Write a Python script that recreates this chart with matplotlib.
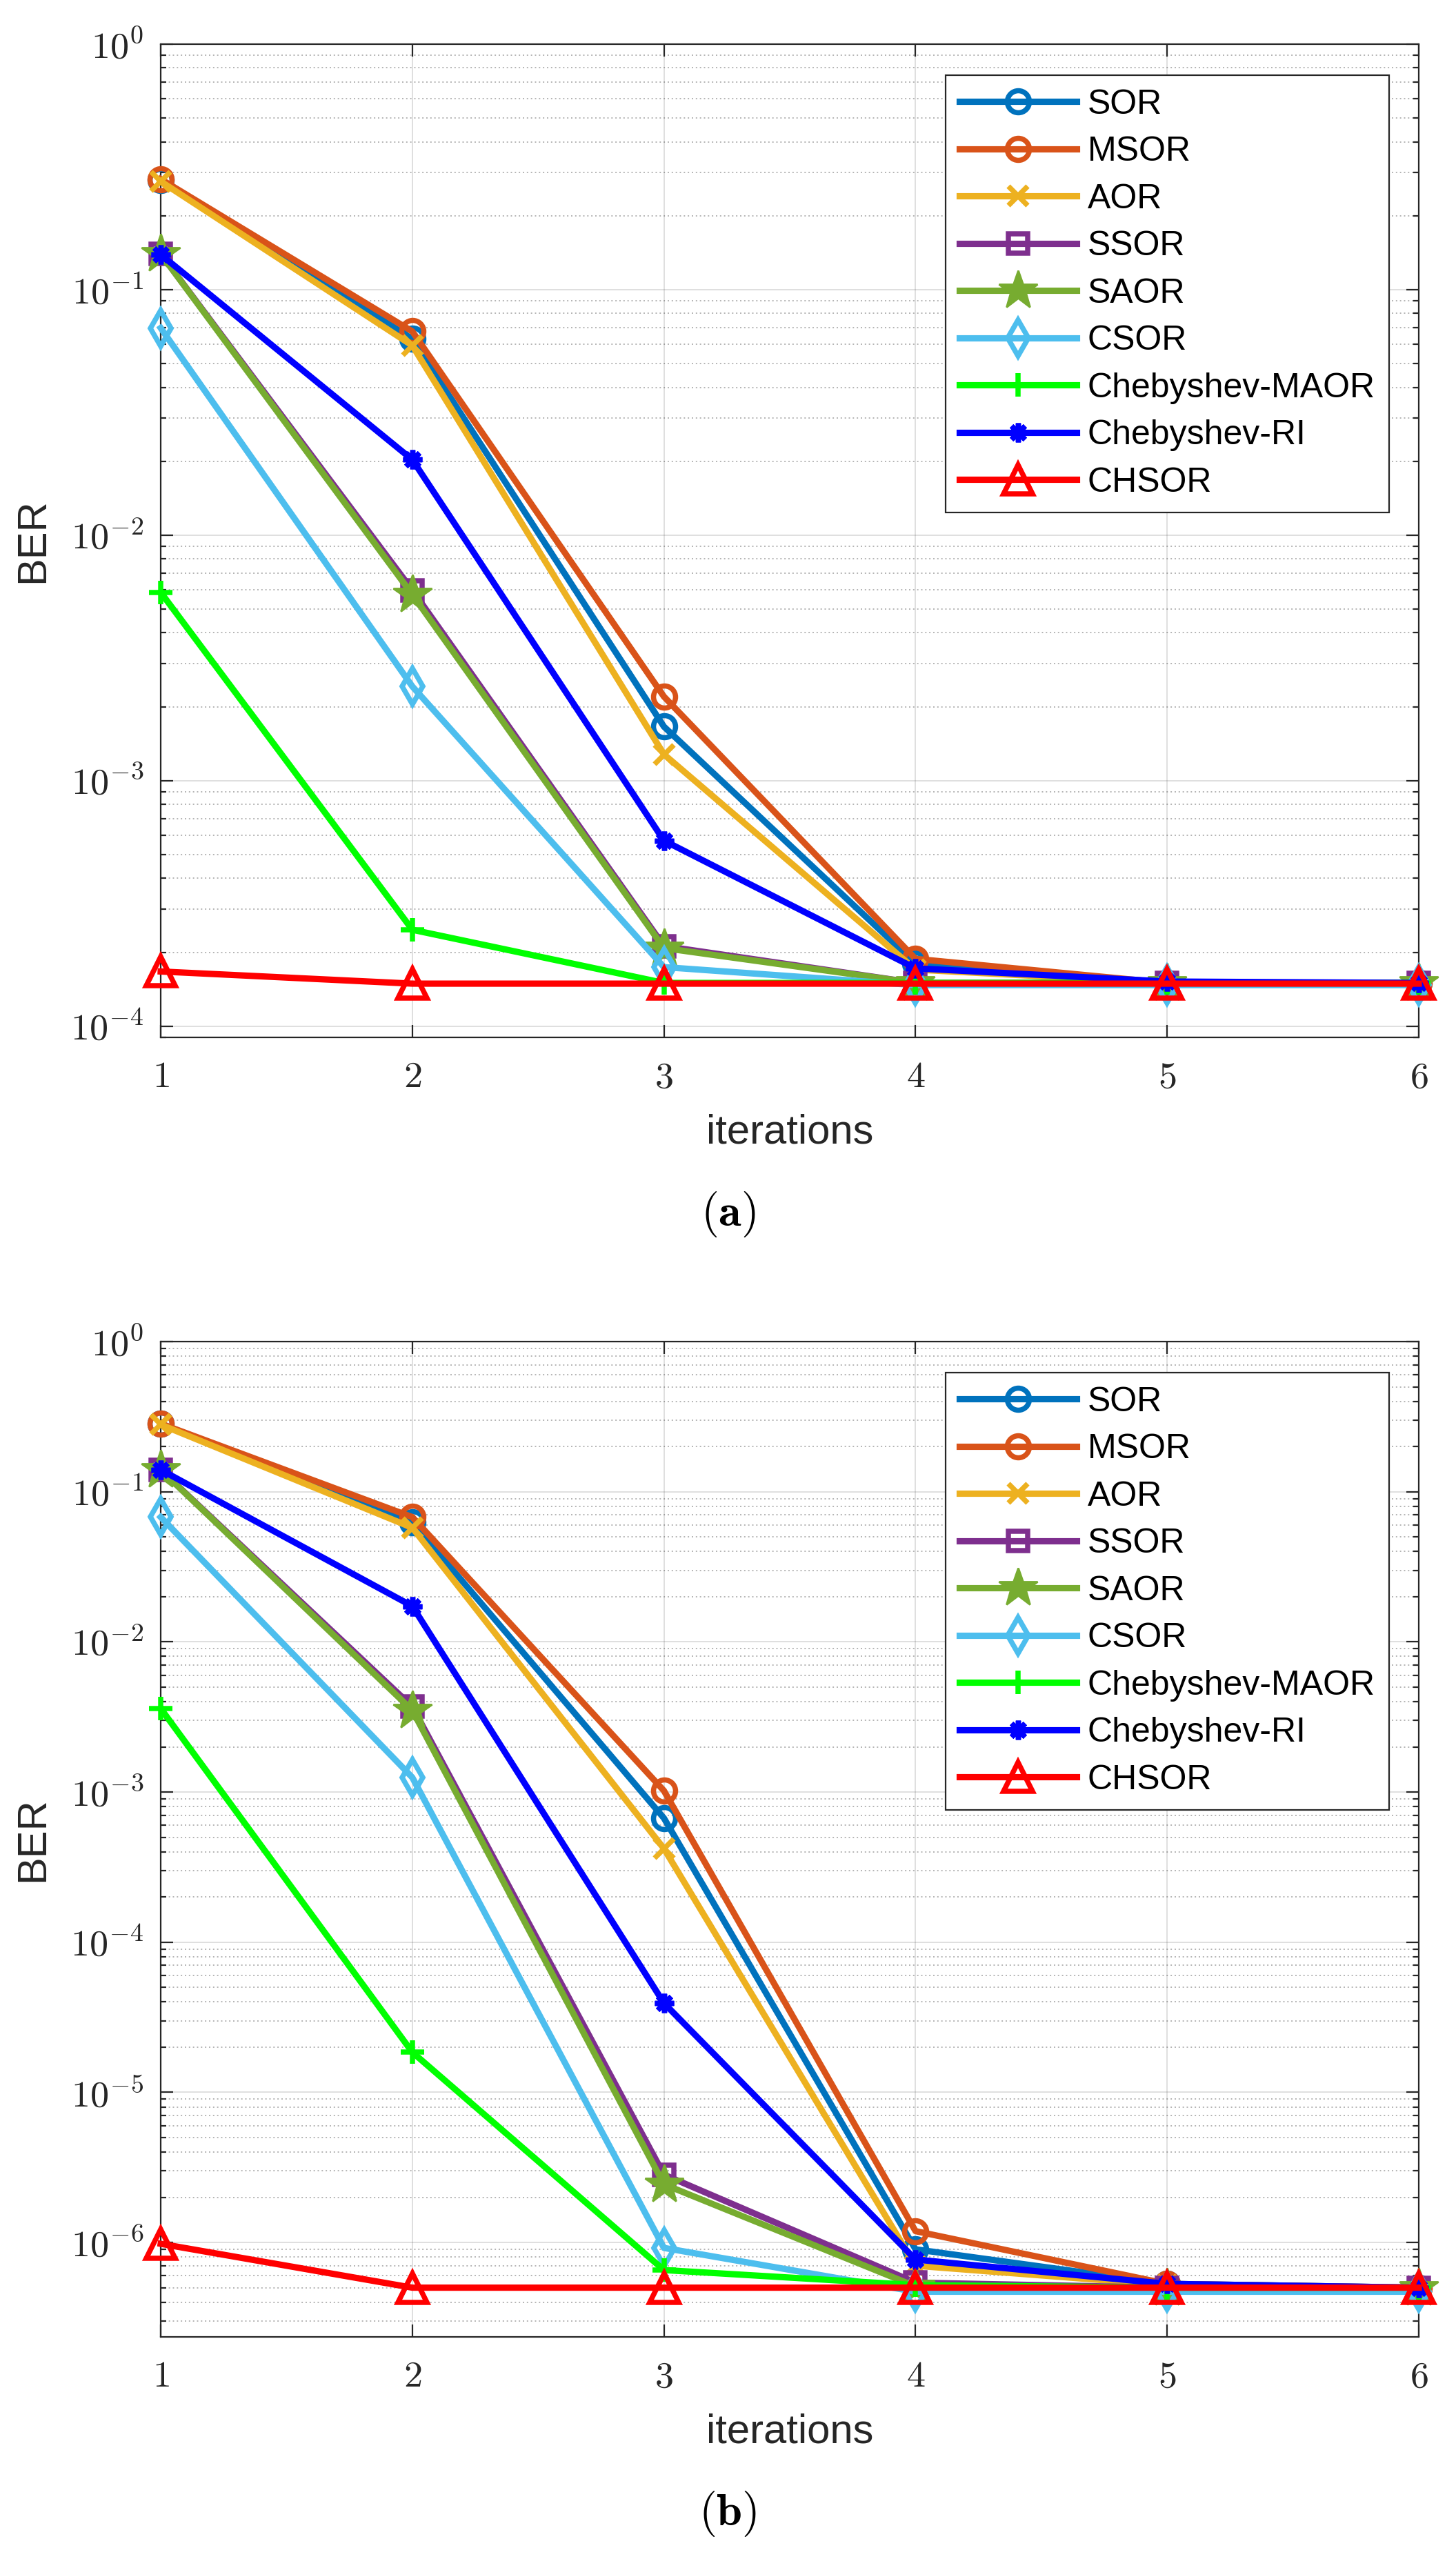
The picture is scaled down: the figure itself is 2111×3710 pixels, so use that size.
import numpy as np
import matplotlib
matplotlib.use("Agg")
import matplotlib.pyplot as plt
from matplotlib.ticker import FixedLocator, FuncFormatter, NullFormatter

# iterations on the x axis
iters = [1, 2, 3, 4, 5, 6]

labels = ["SOR", "MSOR", "AOR", "SSOR", "SAOR", "CSOR",
          "Chebyshev-MAOR", "Chebyshev-RI", "CHSOR"]

# panel (a) BER values
a_sor   = [0.280, 0.0630, 1.66e-3, 1.80e-4, 1.50e-4, 1.50e-4]
a_msor  = [0.282, 0.0676, 2.20e-3, 1.88e-4, 1.50e-4, 1.50e-4]
a_aor   = [0.276, 0.0592, 1.28e-3, 1.70e-4, 1.50e-4, 1.50e-4]
a_ssor  = [0.140, 5.97e-3, 2.12e-4, 1.50e-4, 1.50e-4, 1.50e-4]
a_saor  = [0.140, 5.73e-3, 2.08e-4, 1.50e-4, 1.50e-4, 1.50e-4]
a_csor  = [0.0698, 2.42e-3, 1.74e-4, 1.47e-4, 1.47e-4, 1.47e-4]
a_maor  = [5.85e-3, 2.47e-4, 1.50e-4, 1.50e-4, 1.50e-4, 1.50e-4]
a_ri    = [0.139, 0.0203, 5.70e-4, 1.72e-4, 1.52e-4, 1.50e-4]
a_chsor = [1.67e-4, 1.49e-4, 1.49e-4, 1.49e-4, 1.49e-4, 1.49e-4]

# panel (b)
b_sor   = [0.284, 0.0625, 6.70e-4, 9.0e-7, 5.3e-7, 5.0e-7]
b_msor  = [0.284, 0.0678, 1.02e-3, 1.19e-6, 5.3e-7, 5.0e-7]
b_aor   = [0.280, 0.0576, 4.20e-4, 7.0e-7, 5.2e-7, 5.0e-7]
b_ssor  = [0.140, 3.70e-3, 2.83e-6, 5.4e-7, 5.0e-7, 5.0e-7]
b_saor  = [0.140, 3.50e-3, 2.44e-6, 5.1e-7, 5.0e-7, 5.0e-7]
b_csor  = [0.0678, 1.25e-3, 9.2e-7, 4.7e-7, 4.7e-7, 4.7e-7]
b_maor  = [3.60e-3, 1.85e-5, 6.55e-7, 5.2e-7, 5.0e-7, 5.0e-7]
b_ri    = [0.140, 0.0173, 3.93e-5, 7.7e-7, 5.3e-7, 5.0e-7]
b_chsor = [9.8e-7, 5.0e-7, 5.0e-7, 5.0e-7, 5.0e-7, 5.0e-7]

ylims = [(9e-5, 1.0), (2.35e-7, 1.0)]

# MATLAB-ish line styles per method
STYLES = [
    dict(color="#0072BD", marker="o", ms=11.5, mfc="none"),
    dict(color="#D95319", marker="o", ms=11.5, mfc="none"),
    dict(color="#EDB120", marker="x", ms=10, mfc="none"),
    dict(color="#7E2F8E", marker="s", ms=10, mfc="none"),
    dict(color="#77AC30", marker="*", ms=21, mfc="#77AC30", mew=1.0),
    dict(color="#4DBEEE", marker="d", ms=13, mfc="none"),
    dict(color="#00FF00", marker="+", ms=12, mfc="none"),
    dict(color="#0000FF", marker=(8, 2, 0), ms=10, mfc="none"),
    dict(color="#FF0000", marker="^", ms=15, mfc="none"),
]

DARK = "#262626"
plt.rcParams["mathtext.fontset"] = "cm"
plt.rcParams["font.family"] = ["Liberation Sans", "DejaVu Sans"]

W, H = 2111, 3710
DPI = 200
fig = plt.figure(figsize=(W / DPI, H / DPI), dpi=DPI)

# axes boxes in pixels: left, top, right, bottom
boxes = [(233, 64, 2057, 1504), (233, 1945, 2057, 3388)]
panel_tags = ["a", "b"]
tag_y = [1760, 3644]


def sci_label(v, pos):
    return r"$10^{%d}$" % int(round(np.log10(v)))


def draw_panel(ax, series, ylim):
    for vals, lab, st in zip(series, labels, STYLES):
        ax.plot(iters, vals, label=lab, color=st["color"], lw=3.3,
                marker=st["marker"], ms=st["ms"], mfc=st["mfc"],
                mec=st["color"], mew=st.get("mew", 2.7), clip_on=False,
                zorder=3)
    ax.set_yscale("log")
    ax.set_xlim(1, 6)
    ax.set_ylim(*ylim)

    lo = int(np.floor(np.log10(ylim[0])))
    major = [10.0 ** k for k in range(lo, 1)]
    minor = [m * 10.0 ** k for k in range(lo, 0) for m in range(2, 10)]
    ax.yaxis.set_major_locator(FixedLocator(major))
    ax.yaxis.set_minor_locator(FixedLocator(minor))
    ax.yaxis.set_major_formatter(FuncFormatter(sci_label))
    ax.yaxis.set_minor_formatter(NullFormatter())
    ax.xaxis.set_major_locator(FixedLocator(iters))
    ax.xaxis.set_major_formatter(FuncFormatter(lambda v, p: r"$%d$" % v))

    ax.grid(True, which="major", color=DARK, alpha=0.15, lw=0.7, ls="-")
    ax.grid(True, which="minor", axis="y", color=DARK, alpha=0.35, lw=0.7,
            ls=(0, (1, 2)))
    ax.set_axisbelow(True)

    ax.tick_params(which="both", direction="in", top=True, right=True,
                   colors=DARK, width=0.8)
    ax.tick_params(which="major", length=6.5, labelsize=19.5)
    ax.tick_params(which="minor", length=3)
    ax.tick_params(axis="x", pad=12)
    ax.tick_params(axis="y", pad=9)
    for sp in ax.spines.values():
        sp.set_color(DARK)
        sp.set_linewidth(0.8)

    ax.set_xlabel("iterations", fontsize=21.5, color=DARK, va="center")
    ax.set_ylabel("BER", fontsize=21.5, color=DARK, va="center")

    leg = ax.legend(loc="upper right", bbox_to_anchor=(0.9762, 0.969),
                    borderaxespad=0, fontsize=18, handlelength=3.4,
                    handletextpad=0.32, labelspacing=0.45, borderpad=0.4,
                    fancybox=False, framealpha=1, edgecolor=DARK)
    leg.get_frame().set_linewidth(0.8)
    for t in leg.get_texts():
        t.set_color("black")
    return leg


all_series = [
    [a_sor, a_msor, a_aor, a_ssor, a_saor, a_csor, a_maor, a_ri, a_chsor],
    [b_sor, b_msor, b_aor, b_ssor, b_saor, b_csor, b_maor, b_ri, b_chsor],
]

for i, (l, t, r, b) in enumerate(boxes):
    ax = fig.add_axes([l / W, 1 - b / H, (r - l) / W, (b - t) / H])
    draw_panel(ax, all_series[i], ylims[i])
    hpx = b - t
    wpx = r - l
    ax.xaxis.set_label_coords(0.5, -(138 / hpx))
    ax.yaxis.set_label_coords((48 - l) / wpx, 0.5)
    fig.text(0.5, 1 - tag_y[i] / H,
             r"$\mathrm{(}\mathbf{%s}\mathrm{)}$" % panel_tags[i],
             fontsize=24, ha="center", va="center", color="black")

fig.savefig("out.png", dpi=DPI)
